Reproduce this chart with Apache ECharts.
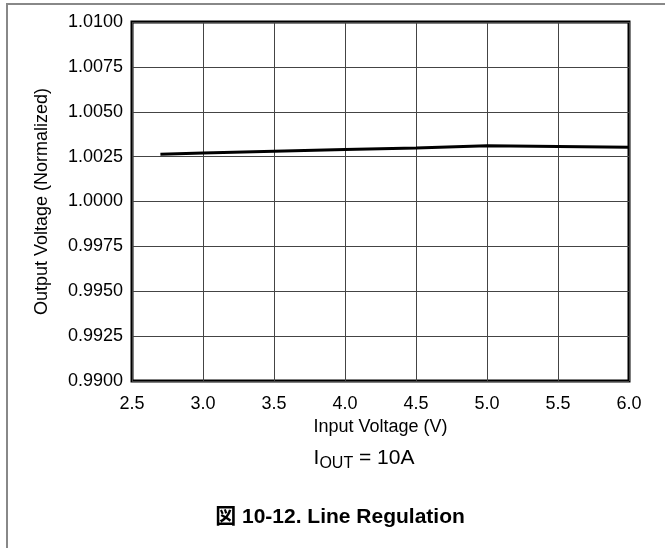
<!DOCTYPE html>
<html>
<head>
<meta charset="utf-8">
<script src="https://cdn.jsdelivr.net/npm/echarts@6/dist/echarts.min.js"></script>
<style>
  html, body { margin: 0; padding: 0; background: #fff; }
  #chart { width: 665px; height: 548px; }
</style>
</head>
<body>
<div id="chart"></div>
<script>
// Line regulation, IOUT = 10A
const inputVoltage = [2.7, 3.0, 3.5, 4.0, 4.5, 5.0, 5.5, 6.0];
const outputNorm = [1.00263, 1.0027, 1.0028, 1.00289, 1.00298, 1.0031, 1.00307, 1.00302];
const xTicks = [2.5, 3.0, 3.5, 4.0, 4.5, 5.0, 5.5, 6.0];
const yTicks = [0.99, 0.9925, 0.995, 0.9975, 1.0, 1.0025, 1.005, 1.0075, 1.01];

const font = "Liberation Sans, Arial, sans-serif";
const chart = echarts.init(document.getElementById("chart"));

const option = {
  animation: false,
  backgroundColor: "#fff",
  grid: {
    left: 132,
    top: 22,
    right: 36,
    bottom: 167,
    show: true,
    borderColor: "#000",
    borderWidth: 3,
  },
  xAxis: {
    type: "value",
    min: xTicks[0],
    max: xTicks[xTicks.length - 1],
    interval: 0.5,
    axisLine: { show: false },
    axisTick: { show: false },
    axisLabel: {
      color: "#000",
      fontFamily: font,
      fontSize: 18,
      margin: 14,
      formatter: (v) => v.toFixed(1),
    },
    splitLine: { lineStyle: { color: "#444", width: 1 } },
    name: "Input Voltage (V)",
    nameLocation: "middle",
    nameGap: 35,
    nameTextStyle: { color: "#000", fontFamily: font, fontSize: 18 },
  },
  yAxis: {
    type: "value",
    min: yTicks[0],
    max: yTicks[yTicks.length - 1],
    interval: 0.0025,
    axisLine: { show: false },
    axisTick: { show: false },
    axisLabel: {
      color: "#000",
      fontFamily: font,
      fontSize: 18,
      margin: 9,
      formatter: (v) => v.toFixed(4),
    },
    splitLine: { lineStyle: { color: "#444", width: 1 } },
    name: "Output Voltage (Normalized)",
    nameLocation: "middle",
    nameGap: 81,
    nameTextStyle: { color: "#000", fontFamily: font, fontSize: 18 },
  },
  series: [
    {
      type: "line",
      data: inputVoltage.map((x, i) => [x, outputNorm[i]]),
      showSymbol: false,
      smooth: false,
      lineStyle: { color: "#000", width: 3 },
    },
  ],
  graphic: [
    {
      type: "rect",
      shape: { x: 7, y: 4, width: 670, height: 560 },
      style: { fill: "none", stroke: "#888", lineWidth: 2 },
      silent: true,
    },
    {
      type: "text",
      x: 364,
      y: 458,
      style: {
        text: "{m|I}{s|OUT}{m| = 10A}",
        align: "center",
        verticalAlign: "middle",
        rich: {
          m: { fontFamily: font, fontSize: 21, fill: "#000" },
          s: { fontFamily: font, fontSize: 16, fill: "#000", padding: [12, 0, 0, 0] },
        },
      },
    },
    {
      type: "text",
      x: 340,
      y: 517,
      style: {
        text: "図 10-12. Line Regulation",
        align: "center",
        verticalAlign: "middle",
        fontFamily: "Liberation Sans, Noto Sans CJK JP, sans-serif",
        fontWeight: "bold",
        fontSize: 21,
        fill: "#000",
      },
    },
  ],
};

chart.setOption(option);
</script>
</body>
</html>
